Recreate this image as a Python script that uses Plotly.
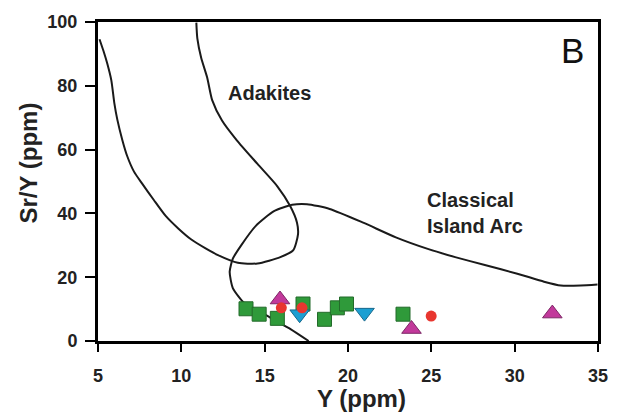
import plotly.graph_objects as go

# Field boundaries (Y ppm, Sr/Y)
adakite_x = [5.09, 5.33, 5.56, 5.80, 5.98, 6.16, 6.45, 6.75, 7.16, 7.64, 8.35, 9.06, 9.83, 10.60,
             11.43, 12.20, 13.39, 14.57, 15.94, 16.72, 17.00, 16.94, 16.53, 15.76, 14.57, 13.33,
             12.44, 11.85, 11.55, 11.19, 10.96, 10.90]
adakite_y = [94.6, 90.9, 86.9, 81.7, 74.6, 69.4, 63.2, 58.0, 53.1, 49.4, 44.2, 39.2, 35.2, 31.8,
             29.1, 26.9, 24.5, 24.3, 26.3, 28.5, 33.4, 37.1, 42.3, 48.5, 55.5, 62.9,
             69.1, 75.5, 82.6, 88.8, 94.9, 99.8]

arc_x = [17.64, 16.55, 14.97, 13.78, 13.09, 12.90, 13.09, 13.58, 14.47, 15.56, 16.65, 17.54,
         18.90, 20.91, 22.87, 24.83, 26.43, 28.21, 30.16, 31.76, 32.77, 33.96, 34.97]
arc_y = [0.0, 3.75, 8.4, 11.9, 16.6, 21.7, 25.8, 29.9, 36.1, 40.7, 42.7, 42.9,
         41.4, 37.1, 32.5, 28.8, 26.3, 23.8, 21.1, 18.6, 17.4, 17.4, 17.7]

# Samples
sq_x = [13.88, 14.67, 15.76, 17.30, 18.59, 19.36, 19.91, 23.30]
sq_y = [10.1, 8.4, 7.1, 11.6, 6.8, 10.4, 11.6, 8.4]
up_x = [15.92, 23.81, 32.26]
up_y = [13.0, 3.75, 8.6]
dn_x = [17.10, 20.99]
dn_y = [8.4, 8.9]
ci_x = [16.0, 17.24, 24.99]
ci_y = [10.4, 10.4, 7.8]

x_ticks = [5, 10, 15, 20, 25, 30, 35]
y_ticks = [0, 20, 40, 60, 80, 100]

FONT = "Liberation Sans, Arial, sans-serif"

fig = go.Figure()
line_style = dict(color="#1a1a1a", width=2, shape="spline", smoothing=0.6)
fig.add_trace(go.Scatter(x=adakite_x, y=adakite_y, mode="lines", line=line_style, hoverinfo="skip"))
fig.add_trace(go.Scatter(x=arc_x, y=arc_y, mode="lines", line=line_style, hoverinfo="skip"))

fig.add_trace(go.Scatter(x=sq_x, y=sq_y, mode="markers",
                         marker=dict(symbol="square", size=14, color="#2f9a3a",
                                     line=dict(color="#236b2a", width=1))))
fig.add_trace(go.Scatter(x=up_x, y=up_y, mode="markers",
                         marker=dict(symbol="triangle-up", size=17, color="#c2399b",
                                     line=dict(color="#7d2866", width=1))))
fig.add_trace(go.Scatter(x=dn_x, y=dn_y, mode="markers",
                         marker=dict(symbol="triangle-down", size=17, color="#1c9fd2",
                                     line=dict(color="#17688c", width=1))))
fig.add_trace(go.Scatter(x=ci_x, y=ci_y, mode="markers",
                         marker=dict(symbol="circle", size=11, color="#e8362f",
                                     line=dict(color="#e8362f", width=0))))

axis_common = dict(showline=True, mirror=True, linecolor="black", linewidth=3,
                   showgrid=False, zeroline=False, ticks="outside", tickcolor="black",
                   tickwidth=1.5, tickfont=dict(family=FONT, size=18, color="#222", weight="bold"))

fig.update_xaxes(range=[5, 35], tickvals=x_ticks, ticklen=8, ticklabelstandoff=8, **axis_common)
fig.update_yaxes(range=[0, 100], tickvals=y_ticks, ticklen=10, ticklabelstandoff=4, **axis_common)

fig.update_layout(
    width=620, height=412,
    margin=dict(l=98, r=16, t=16, b=71),
    paper_bgcolor="white", plot_bgcolor="white",
    showlegend=False,
    annotations=[
        dict(text="<b>Y (ppm)</b>", xref="paper", yref="paper", x=0.527, y=-0.18,
             showarrow=False, xanchor="center", yanchor="middle",
             font=dict(family=FONT, size=24, color="#222")),
        dict(text="<b>Sr/Y (ppm)</b>", xref="paper", yref="paper", x=-0.139, y=0.558,
             textangle=-90, showarrow=False, xanchor="center", yanchor="middle",
             font=dict(family=FONT, size=24, color="#222")),
        dict(text="<b>Adakites</b>", xref="x", yref="y", x=12.65, y=77.7,
             showarrow=False, xanchor="left", yanchor="middle",
             font=dict(family=FONT, size=20, color="#222")),
        dict(text="<b>Classical<br>Island Arc</b>", xref="x", yref="y", x=24.6, y=40.2,
             showarrow=False, xanchor="left", yanchor="middle", align="left",
             font=dict(family=FONT, size=20, color="#222")),
        dict(text="B", xref="paper", yref="paper", x=0.948, y=0.912,
             showarrow=False, xanchor="center", yanchor="middle",
             font=dict(family=FONT, size=35, color="#111")),
    ],
)

fig.write_html("out.html")
